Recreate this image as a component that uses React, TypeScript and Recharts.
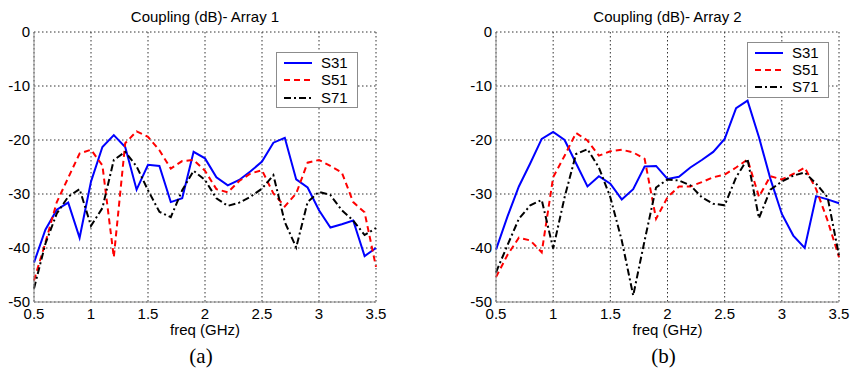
import { LineChart, Line, XAxis, YAxis, CartesianGrid } from "recharts";

// frequency samples (GHz)
const freq = [
  0.5, 0.6, 0.7, 0.8, 0.9, 1.0, 1.1, 1.2, 1.3, 1.4, 1.5, 1.6, 1.7, 1.8, 1.9, 2.0,
  2.1, 2.2, 2.3, 2.4, 2.5, 2.6, 2.7, 2.8, 2.9, 3.0, 3.1, 3.2, 3.3, 3.4, 3.5,
];

// Array 1
const a1S31 = [
  -42.7, -36.6, -32.9, -31.6, -38.1, -27.7, -21.3, -19.1, -21.3, -29.2, -24.6, -24.8, -31.5, -30.8, -22.2, -23.4,
  -26.9, -28.4, -27.4, -25.8, -24.0, -20.5, -19.6, -27.3, -28.8, -33.0, -36.2, -35.6, -34.9, -41.5, -40.0,
];
const a1S51 = [
  -46.0, -39.0, -31.5, -27.0, -22.5, -21.8, -24.7, -41.7, -20.6, -18.4, -19.4, -21.9, -25.3, -23.9, -23.7, -25.7,
  -29.1, -29.7, -27.6, -26.2, -25.6, -29.9, -32.3, -29.9, -24.2, -23.7, -24.8, -26.0, -31.5, -33.4, -43.5,
];
const a1S71 = [
  -47.5, -39.2, -33.6, -30.5, -29.1, -35.9, -32.6, -23.7, -22.2, -24.9, -29.3, -33.3, -34.3, -29.3, -25.7, -27.4,
  -30.8, -32.2, -31.6, -30.5, -29.0, -26.5, -35.2, -39.9, -31.5, -29.6, -30.2, -33.0, -34.9, -37.6, -36.3,
];

// Array 2
const a2S31 = [
  -40.3, -34.2, -28.6, -24.3, -19.8, -18.5, -20.0, -24.3, -28.6, -26.7, -28.1, -31.0, -29.1, -24.9, -24.8, -27.2,
  -26.8, -25.1, -23.7, -22.2, -19.8, -14.1, -12.7, -19.5, -27.2, -33.7, -37.7, -40.0, -30.4, -31.0, -31.7,
];
const a2S51 = [
  -45.4, -41.3, -38.1, -38.6, -40.8, -26.9, -22.9, -18.7, -20.1, -22.9, -22.1, -21.8, -22.3, -23.5, -34.6, -30.6,
  -28.6, -28.6, -27.8, -26.9, -26.4, -25.1, -23.6, -30.5, -26.7, -27.3, -26.3, -25.1, -29.1, -34.9, -41.7,
];
const a2S71 = [
  -44.5, -39.5, -34.6, -32.1, -31.1, -40.1, -30.6, -22.6, -21.7, -25.1, -30.6, -38.6, -48.8, -38.6, -28.8, -27.3,
  -27.5, -28.4, -30.6, -31.8, -32.1, -26.9, -23.5, -34.5, -29.2, -27.7, -26.6, -26.0, -28.1, -30.6, -41.4,
];

const xTicks = [0.5, 1, 1.5, 2, 2.5, 3, 3.5];
const yTicks = [-50, -40, -30, -20, -10, 0];
const seriesNames = ["S31", "S51", "S71"];

const SERIES = [
  { key: "s31", color: "#0000ff", dash: undefined as string | undefined },
  { key: "s51", color: "#ff0000", dash: "6 4" },
  { key: "s71", color: "#000000", dash: "7 3 2 3" },
];

const FONT = "'Liberation Sans', Arial, Helvetica, sans-serif";
const BOX = "#8c8c8c";

function buildRows(s31: number[], s51: number[], s71: number[]) {
  return freq.map((f, i) => ({ f, s31: s31[i], s51: s51[i], s71: s71[i] }));
}

interface PanelProps {
  left: number;
  width: number;
  yAxisWidth: number;
  rightMargin: number;
  title: string;
  caption: string;
  rows: ReturnType<typeof buildRows>;
  legend: { left: number; top: number; rowTops: number[] };
}

function Panel({ left, width, yAxisWidth, rightMargin, title, caption, rows, legend }: PanelProps) {
  const plotLeft = left + yAxisWidth;
  const plotRight = left + width - rightMargin;
  const center = (plotLeft + plotRight) / 2;
  const tick = { fontSize: 15, fill: "#000", fontFamily: FONT };

  return (
    <>
      <div style={{ position: "absolute", left, top: 0 }}>
        <LineChart width={width} height={372} data={rows} margin={{ top: 32, right: rightMargin, bottom: 50, left: 0 }}>
          <CartesianGrid stroke="#333" strokeDasharray="1.5 2.5" ticks={xTicks as any} />
          <XAxis
            dataKey="f"
            type="number"
            domain={[0.5, 3.5]}
            ticks={xTicks}
            tick={tick}
            tickLine={false}
            tickSize={4}
            tickMargin={2}
            height={20}
            axisLine={{ stroke: BOX }}
            interval={0}
          />
          <XAxis xAxisId="top" orientation="top" type="number" domain={[0.5, 3.5]} height={0} tick={false} tickLine={false} axisLine={{ stroke: BOX }} />
          <YAxis
            type="number"
            domain={[-50, 0]}
            ticks={yTicks}
            tick={tick}
            tickLine={false}
            tickSize={4}
            tickMargin={0}
            width={yAxisWidth}
            axisLine={{ stroke: BOX }}
            interval={0}
          />
          <YAxis yAxisId="right" orientation="right" domain={[-50, 0]} width={0} tick={false} tickLine={false} axisLine={{ stroke: BOX }} />
          {SERIES.map((s) => (
            <Line
              key={s.key}
              dataKey={s.key}
              type="linear"
              stroke={s.color}
              strokeWidth={2}
              strokeDasharray={s.dash}
              dot={false}
              isAnimationActive={false}
            />
          ))}
        </LineChart>
      </div>

      {/* title */}
      <div style={{ position: "absolute", left: center - 150, width: 300, top: 8, textAlign: "center", fontFamily: FONT, fontSize: 15, lineHeight: "18px" }}>
        {title}
      </div>
      {/* x label */}
      <div style={{ position: "absolute", left: center - 100, width: 200, top: 321, textAlign: "center", fontFamily: FONT, fontSize: 15, lineHeight: "18px" }}>
        freq (GHz)
      </div>
      {/* caption */}
      <div style={{ position: "absolute", left: center - 100 - 4, width: 200, top: 344, textAlign: "center", fontFamily: "'Liberation Serif', serif", fontSize: 21, lineHeight: "24px" }}>
        {caption}
      </div>

      {/* legend */}
      <div style={{ position: "absolute", left: legend.left, top: legend.top, width: 80, height: 54, border: `1px solid ${BOX}`, background: "#fff" }}>
        {SERIES.map((s, i) => (
          <div key={s.key} style={{ position: "absolute", left: 0, top: legend.rowTops[i], height: 18, width: 80 }}>
            <svg width={30} height={18} style={{ position: "absolute", left: 7, top: 0 }}>
              <line x1={0} y1={9} x2={28} y2={9} stroke={s.color} strokeWidth={2} strokeDasharray={s.dash} />
            </svg>
            <span style={{ position: "absolute", left: 44, top: 0, fontFamily: FONT, fontSize: 15, lineHeight: "18px" }}>{seriesNames[i]}</span>
          </div>
        ))}
      </div>
    </>
  );
}

export default function App() {
  const rows1 = buildRows(a1S31, a1S51, a1S71);
  const rows2 = buildRows(a2S31, a2S51, a2S71);
  return (
    <div style={{ position: "absolute", left: 0, top: 0, width: 852, height: 372, background: "#fff", overflow: "hidden" }}>
      <Panel
        left={0}
        width={400}
        yAxisWidth={34}
        rightMargin={24}
        title="Coupling (dB)- Array 1"
        caption="(a)"
        rows={rows1}
        legend={{ left: 276, top: 52, rowTops: [1, 18, 36] }}
      />
      <Panel
        left={460}
        width={390}
        yAxisWidth={36}
        rightMargin={11}
        title="Coupling (dB)- Array 2"
        caption="(b)"
        rows={rows2}
        legend={{ left: 747, top: 42, rowTops: [1, 18, 35] }}
      />
    </div>
  );
}
